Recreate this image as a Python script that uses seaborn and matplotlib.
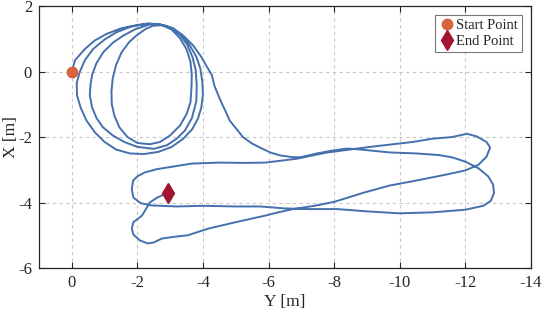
import numpy as np
import pandas as pd
import seaborn as sns
import matplotlib.pyplot as plt

# trajectory (horizontal = Y, vertical = X)
traj_y = [0, -0.1, -0.4, -0.7, -1.06, -1.5, -1.97, -2.35, -2.7, -3.05, -3.35, -3.6, -3.8, -3.92, -3.98, -4.0,
          -3.95, -3.85, -3.68, -3.4, -3.05, -2.65, -2.2, -1.77, -1.35, -1.0, -0.7, -0.45, -0.27, -0.16, -0.15,
          -0.24, -0.4, -0.65, -1.0, -1.36, -1.8, -2.28, -2.65, -3.0,
          -3.3, -3.52, -3.68, -3.78, -3.81, -3.8, -3.66, -3.45, -3.2, -2.9, -2.5, -2.0, -1.6, -1.25, -0.95,
          -0.76, -0.62, -0.55, -0.57, -0.62, -0.75, -0.96, -1.25, -1.57, -1.95, -2.38, -2.75, -3.05,
          -3.3, -3.5, -3.62, -3.66, -3.65, -3.62, -3.5, -3.3, -3.0, -2.69, -2.38, -2.0, -1.7, -1.45, -1.3,
          -1.22, -1.21, -1.25, -1.35, -1.52, -1.75, -1.97, -2.25, -2.48, -2.8, -3.1,
          -3.4, -3.7, -3.95, -4.12, -4.27, -4.35, -4.5, -4.82, -5.22, -5.5, -5.74, -6.05, -6.35, -6.7, -6.96,
          -7.48, -7.9, -8.4, -8.8, -9.2, -9.7, -10.5, -11.2, -11.6, -12.0, -12.4, -12.7, -12.85, -12.88,
          -12.78, -12.55, -12.0, -11.0, -10.0, -9.0, -8.1, -7.2, -6.5, -5.74, -5.0, -4.0, -3.2, -2.44, -2.1,
          -1.88, -1.83, -1.87, -2.0, -2.23, -2.6, -3.1, -3.66, -4.5, -5.3, -5.9, -6.4, -6.87, -7.3, -7.8,
          -8.5, -9.1, -9.7, -10.4, -11.0, -11.6, -12.05, -12.35, -12.65, -12.76, -12.65, -12.4, -12.0,
          -11.4, -10.5, -9.7, -8.9, -8.0, -7.4, -6.75, -6.3, -5.9, -5.0, -4.15, -3.54, -3.1, -2.75, -2.5,
          -2.32, -2.08, -1.88, -1.83, -1.88, -2.14, -2.27, -2.38, -2.6, -2.93]
traj_x = [0, 0.35, 0.69, 0.95, 1.15, 1.32, 1.42, 1.47, 1.44, 1.32, 1.1, 0.8, 0.45, 0.1, -0.3, -0.7,
          -1.1, -1.43, -1.75, -2.05, -2.3, -2.45, -2.52, -2.5, -2.38, -2.15, -1.85, -1.5, -1.1, -0.73, -0.35,
          -0.02, 0.35, 0.69, 0.98, 1.2, 1.37, 1.46, 1.45, 1.35,
          1.13, 0.82, 0.45, 0.05, -0.4, -0.9, -1.43, -1.8, -2.05, -2.25, -2.36, -2.3, -2.15, -1.95, -1.7,
          -1.43, -1.1, -0.73, -0.4, -0.1, 0.25, 0.59, 0.88, 1.1, 1.3, 1.44, 1.42, 1.28,
          1.02, 0.68, 0.3, -0.1, -0.5, -0.94, -1.3, -1.65, -1.95, -2.15, -2.22, -2.18, -2.0, -1.7, -1.35,
          -1.0, -0.6, -0.2, 0.2, 0.59, 0.9, 1.1, 1.3, 1.4, 1.42, 1.32,
          1.1, 0.8, 0.45, 0.15, -0.1, -0.43, -0.8, -1.5, -2.0, -2.2, -2.32, -2.47, -2.56, -2.61, -2.62,
          -2.5, -2.42, -2.35, -2.38, -2.42, -2.47, -2.5, -2.55, -2.62, -2.75, -2.95, -3.2, -3.45, -3.7,
          -3.95, -4.1, -4.22, -4.3, -4.33, -4.27, -4.2, -4.2, -4.18, -4.12, -4.12, -4.1, -4.12, -4.09, -4.02,
          -3.85, -3.6, -3.33, -3.2, -3.08, -2.98, -2.9, -2.81, -2.78, -2.79, -2.78, -2.72, -2.66, -2.57, -2.47,
          -2.38, -2.3, -2.23, -2.15, -2.05, -2.0, -1.9, -1.98, -2.15, -2.32, -2.6, -2.85, -3.02,
          -3.15, -3.33, -3.48, -3.7, -3.98, -4.1, -4.2, -4.3, -4.4, -4.6, -4.8, -5.0, -5.05, -5.1, -5.22,
          -5.25, -5.16, -4.98, -4.8, -4.6, -4.4, -4.18, -4.0, -3.85, -3.7]

start_pt = (0.0, 0.0)
end_pt = (-2.93, -3.7)

x_ticks = [0, -2, -4, -6, -8, -10, -12, -14]
y_ticks = [-6, -4, -2, 0, 2]

sns.set_style('ticks')
plt.rcParams['font.family'] = ['Liberation Serif', 'DejaVu Serif']
plt.rcParams['axes.unicode_minus'] = False

df = pd.DataFrame({'Y': traj_y, 'X': traj_x})

fig = plt.figure(figsize=(5.44, 3.14), dpi=100)
ax = fig.add_axes([0.0717, 0.1465, 0.904, 0.834])

ax.grid(True, linestyle=(0, (3, 3)), color='#c8c8c8', linewidth=0.8)
ax.set_axisbelow(True)

sns.lineplot(data=df, x='Y', y='X', sort=False, estimator=None, color='#4570ae',
             linewidth=1.4, ax=ax, legend=False)
ax.plot([start_pt[0]], [start_pt[1]], 'o', color='#d8643e', markersize=7.5, label='Start Point', linestyle='none')
ax.plot([end_pt[0]], [end_pt[1]], 'd', color='#a2142f', markersize=10, label='End Point', linestyle='none')

ax.set_xlim(1, -14)
ax.set_ylim(-6, 2)
ax.set_xticks(x_ticks)
ax.set_yticks(y_ticks)
ax.tick_params(direction='in', length=4, width=0.8, top=True, right=True, labelsize=12, colors='#262626',
               pad=5)
for s in ax.spines.values():
    s.set_color('#262626')
    s.set_linewidth(0.9)

ax.set_xlabel('Y [m]', fontsize=12.5, labelpad=2)
ax.set_ylabel('X [m]', fontsize=12.5, labelpad=-1)

leg = ax.legend(loc='upper right', fontsize=10.5, frameon=True, fancybox=False, handletextpad=0.05,
                handlelength=1.1, borderpad=0.3, labelspacing=0.15, borderaxespad=0.6)
leg.get_frame().set_edgecolor('#555555')
leg.get_frame().set_linewidth(0.8)

fig.savefig('out.png', dpi=100)
